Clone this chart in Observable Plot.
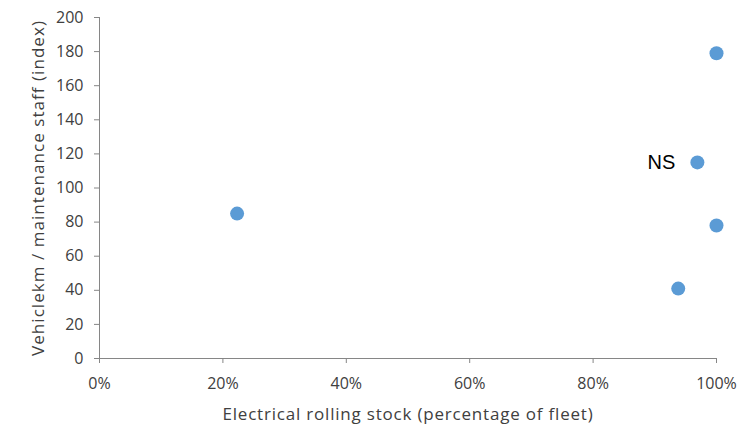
<!DOCTYPE html>
<html>
<head>
<meta charset="utf-8">
<script src="https://cdn.jsdelivr.net/npm/d3@7"></script>
<script src="https://cdn.jsdelivr.net/npm/@observablehq/plot@0.6"></script>
<style>
  html, body { margin: 0; padding: 0; background: #fff; }
  #chart svg { display: block; }
  .x-title text { letter-spacing: 0.8px; }
  .y-title text { letter-spacing: 1.05px; }
</style>
</head>
<body>
<div id="chart"></div>
<script>
const labels = ["", "NS", "", "", ""];
const electricShare = [0.223, 0.969, 1.0, 1.0, 0.938];
const vehiclekmPerStaff = [85, 115, 179, 78, 41];
const xTicks = [0, 0.2, 0.4, 0.6, 0.8, 1.0];
const yTicks = [0, 20, 40, 60, 80, 100, 120, 140, 160, 180, 200];
const xTitle = "Electrical rolling stock (percentage of fleet)";
const yTitle = "Vehiclekm / maintenance staff (index)";

const data = electricShare.map((x, i) => ({x, y: vehiclekmPerStaff[i], label: labels[i]}));

const axisColor = "#868686";
const textColor = "#404040";

const plot = Plot.plot({
  width: 744,
  height: 425,
  marginLeft: 99,
  marginRight: 28,
  marginTop: 17,
  marginBottom: 67,
  style: {fontFamily: "'Open Sans', sans-serif", fontSize: "16px", background: "#fff", color: textColor},
  x: {domain: [0, 1]},
  y: {domain: [0, 200]},
  marks: [
    Plot.ruleX([0], {stroke: axisColor, strokeWidth: 1}),
    Plot.ruleY([0], {stroke: axisColor, strokeWidth: 1}),
    Plot.axisX({ticks: xTicks, tickFormat: d => Math.round(d * 100) + "%", tickSize: 5, tickPadding: 14, stroke: axisColor, fill: textColor, fontSize: 16, label: null}),
    Plot.axisY({ticks: yTicks, tickSize: 5, tickPadding: 11, stroke: axisColor, fill: textColor, fontSize: 16, label: null}),
    Plot.text([xTitle], {frameAnchor: "bottom", lineAnchor: "bottom", dy: 61, fontSize: 17, fill: textColor, className: "x-title"}),
    Plot.text([yTitle], {frameAnchor: "left", textAnchor: "middle", lineAnchor: "middle", dx: -61, rotate: -90, fontSize: 17, fill: textColor, className: "y-title"}),
    Plot.dot(data, {x: "x", y: "y", r: 7, fill: "#5B9BD5", stroke: "none"}),
    Plot.text(data.filter(d => d.label), {x: "x", y: "y", text: "label", textAnchor: "end", dx: -22, fontSize: 20, fill: "#000", fontFamily: "'Liberation Sans', Arial, sans-serif"})
  ]
});
document.getElementById("chart").appendChild(plot);
</script>
</body>
</html>
